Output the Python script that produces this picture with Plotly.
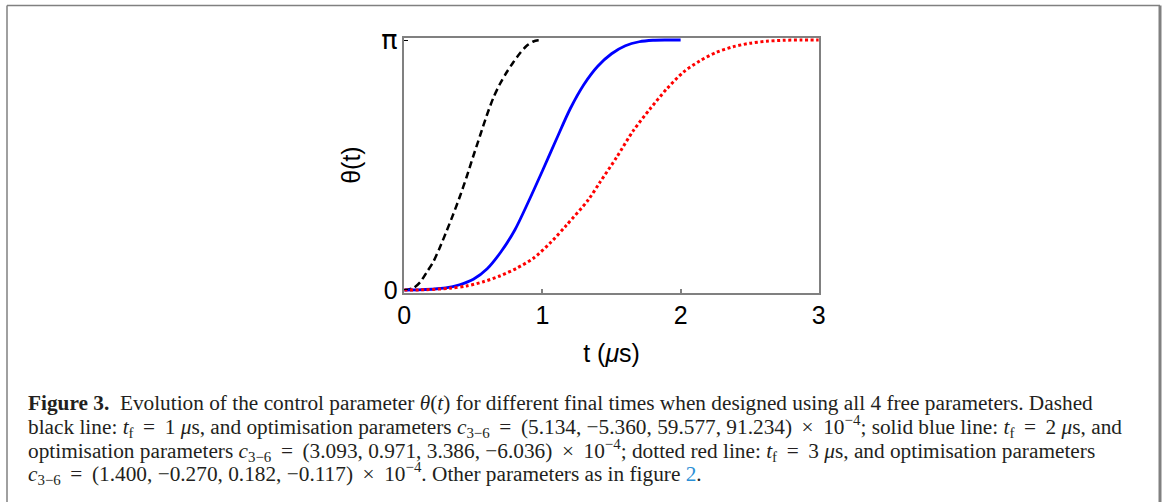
import plotly.graph_objects as go

# ---- data ----
t_black = [0.0, 0.065, 0.114, 0.162, 0.210, 0.258, 0.307, 0.355, 0.403, 0.451, 0.499,
           0.548, 0.596, 0.644, 0.692, 0.741, 0.789, 0.837, 0.886, 0.934, 0.97, 1.0]
th_black = [0.0, 0.008, 0.031, 0.071, 0.113, 0.171, 0.237, 0.304, 0.375, 0.452, 0.535,
            0.617, 0.697, 0.768, 0.824, 0.871, 0.911, 0.947, 0.977, 0.994, 0.999, 1.0]

t_blue = [0.0, 0.1, 0.2, 0.3, 0.4, 0.5, 0.6, 0.7, 0.8, 0.9, 1.0, 1.1, 1.2, 1.3, 1.4,
          1.5, 1.6, 1.7, 1.8, 1.9, 2.0]
th_blue = [0.0, 0.0005, 0.003, 0.008, 0.021, 0.043, 0.085, 0.153, 0.240, 0.355, 0.477, 0.602,
           0.724, 0.822, 0.895, 0.945, 0.977, 0.993, 0.999, 1.0, 1.0]

t_red = [0.0, 0.15, 0.331, 0.451, 0.572, 0.692, 0.813, 0.934, 1.054, 1.175, 1.331, 1.416,
         1.537, 1.657, 1.778, 1.899, 2.019, 2.14, 2.26, 2.381, 2.501, 2.622, 2.743, 2.87, 3.0]
th_red = [0.0, 0.001, 0.007, 0.016, 0.033, 0.056, 0.087, 0.127, 0.187, 0.26, 0.36, 0.431,
          0.531, 0.637, 0.724, 0.804, 0.871, 0.917, 0.951, 0.973, 0.987, 0.995, 0.999, 1.0, 1.0]

PI = 3.141592653589793
x_ticks = [0, 1, 2, 3]
x_tick_labels = ["0", "1", "2", "3"]
y_ticks = [0, PI]
y_tick_labels = ["0", "<span style='font-family:DejaVu Sans;font-size:27px'>π</span>"]

TS = "\u2009"  # thin space for math operator spacing
EQ = TS + " = " + TS
TIMES = TS + " × " + TS
caption_lines = [
    "<b>Figure 3.</b>  Evolution of the control parameter <i>θ</i>(<i>t</i>) for different final times when designed using all 4 free parameters. Dashed",
    "black line: <i>t</i><sub>f</sub>" + EQ + "1 <i>μ</i>s, and optimisation parameters <i>c</i><sub>3−6</sub>" + EQ
    + "(5.134, −5.360, 59.577, 91.234)" + TIMES + "10<sup>−4</sup>; solid blue line: <i>t</i><sub>f</sub>" + EQ + "2 <i>μ</i>s, and",
    "optimisation parameters <i>c</i><sub>3−6</sub>" + EQ + "(3.093, 0.971, 3.386, −6.036)" + TIMES
    + "10<sup>−4</sup>; dotted red line: <i>t</i><sub>f</sub>" + EQ + "3 <i>μ</i>s, and optimisation parameters",
    "<i>c</i><sub>3−6</sub>" + EQ + "(1.400, −0.270, 0.182, −0.117)" + TIMES
    + "10<sup>−4</sup>. Other parameters as in figure <span style='color:#2b8fd6'>2</span>.",
]

W, H = 1165, 502

fig = go.Figure()
fig.add_trace(go.Scatter(x=t_black, y=[v * PI for v in th_black], mode="lines",
                         line=dict(color="black", width=2.5, dash="7px,4px", shape="spline", smoothing=0.8),
                         showlegend=False, hoverinfo="skip"))
fig.add_trace(go.Scatter(x=t_blue, y=[v * PI for v in th_blue], mode="lines",
                         line=dict(color="#0000ff", width=2.8, shape="spline", smoothing=0.8),
                         showlegend=False, hoverinfo="skip"))
fig.add_trace(go.Scatter(x=t_red, y=[v * PI for v in th_red], mode="lines",
                         line=dict(color="#ff0000", width=3, dash="3px,2.6px", shape="spline", smoothing=0.8),
                         showlegend=False, hoverinfo="skip"))

px_l, px_r = 404.3, 818.8
px_t, px_b = 37.5, 292.7
fig.update_layout(
    width=W, height=H,
    margin=dict(l=0, r=0, t=0, b=0, pad=0, autoexpand=False),
    paper_bgcolor="white", plot_bgcolor="white",
    font=dict(family="Liberation Sans, Arial, sans-serif", color="black"),
    xaxis=dict(domain=[px_l / W, px_r / W], range=[0, 3], tickvals=x_ticks, ticktext=x_tick_labels,
               ticks="inside", ticklen=4, tickwidth=1.5, tickcolor="#808080",
               showline=True, linecolor="#808080", linewidth=1.5, mirror=True, automargin=False,
               showgrid=False, zeroline=False, tickfont=dict(size=25),
               title=dict(text="t (<i>μ</i>s)", font=dict(size=25), standoff=16)),
    yaxis=dict(domain=[1 - px_b / H, 1 - px_t / H], range=[-0.034, 3.173],
               tickvals=y_ticks, ticktext=y_tick_labels,
               ticks="inside", ticklen=4, tickwidth=1, tickcolor="black",
               showline=True, linecolor="#808080", linewidth=1.5, mirror=True, automargin=False,
               showgrid=False, zeroline=False, tickfont=dict(size=25),
               title=dict(text="θ(t)", font=dict(size=25), standoff=14)),
)

# figure box (top, left, right)
fig.add_shape(type="line", xref="paper", yref="paper", x0=7 / W, x1=1160 / W, y0=1 - 5.5 / H, y1=1 - 5.5 / H,
              line=dict(color="#808080", width=1.5))
fig.add_shape(type="line", xref="paper", yref="paper", x0=7 / W, x1=7 / W, y0=0, y1=1 - 5.5 / H,
              line=dict(color="#808080", width=1.5))
fig.add_shape(type="line", xref="paper", yref="paper", x0=1160 / W, x1=1160 / W, y0=0, y1=1 - 5.5 / H,
              line=dict(color="#808080", width=3))

line_y = [403, 426.5, 450, 473]
for txt, yy in zip(caption_lines, line_y):
    fig.add_annotation(text=txt, xref="paper", yref="paper", x=26 / W, y=1 - yy / H,
                       xanchor="left", yanchor="middle", showarrow=False, align="left",
                       font=dict(family="Liberation Serif, Times New Roman, serif", size=21.3, color="#231f20"))

fig.write_html("out.html", config={"displayModeBar": False},
               post_script="document.body.style.margin='0px';")
